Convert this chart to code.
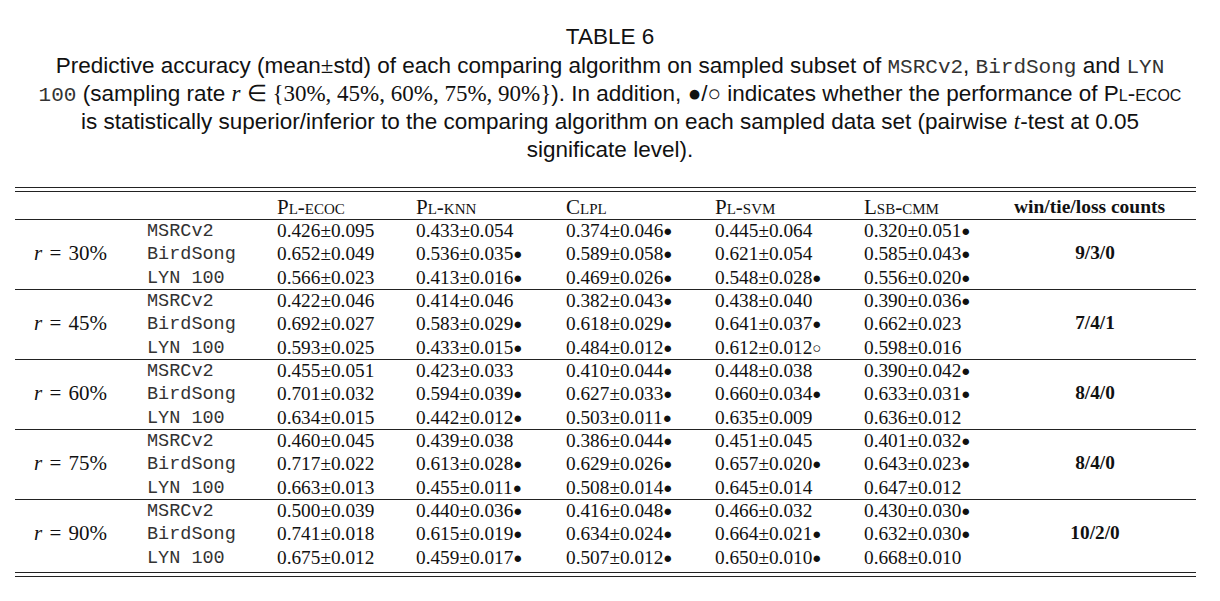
<!DOCTYPE html>
<html><head><meta charset="utf-8">
<script src="https://cdn.jsdelivr.net/npm/chart.js@4/dist/chart.umd.min.js"></script>
<style>
body{margin:0;width:1220px;height:601px;background:#fff;position:relative;overflow:hidden;font-family:"Liberation Sans",Arial,sans-serif;color:#111}
.cap{position:absolute;left:0;width:1220px;text-align:center;font-size:22.5px;line-height:28px;white-space:nowrap}
.tt{font-family:"Liberation Mono",monospace;font-size:21px;color:#333}
.m{font-family:"Liberation Serif",serif;font-style:italic;font-size:23px}
.mr{font-family:"Liberation Serif",serif;font-size:23px}
.sc{font-variant:small-caps}
.rule{position:absolute;left:15px;width:1181px;height:0;border-top:1px solid #222}
.c{position:absolute;font-family:"Liberation Serif",serif;font-size:19.3px;white-space:nowrap;line-height:20px}
.h{font-size:21px}
.ds{font-family:"Liberation Mono",monospace;font-size:18.5px;color:#333}
.b{font-size:15px;vertical-align:1px}
</style></head><body>
<div class="cap" style="top:23px">TABLE 6</div>
<div class="cap" style="top:52px">Predictive accuracy (mean<span class="mr">±</span>std) of each comparing algorithm on sampled subset of <span class="tt">MSRCv2</span>, <span class="tt">BirdSong</span> and <span class="tt">LYN</span></div>
<div class="cap" style="top:80px"><span class="tt">100</span> (sampling rate <span class="m">r</span> <span class="mr">∈ {30%, 45%, 60%, 75%, 90%}</span>). In addition, ●/○ indicates whether the performance of <span class="sc">Pl-ecoc</span></div>
<div class="cap" style="top:108px">is statistically superior/inferior to the comparing algorithm on each sampled data set (pairwise <span class="m">t</span>-test at 0.05</div>
<div class="cap" style="top:136px">significate level).</div>
<div id="tbl"></div>
<script>
const algorithms = ['Pl-ecoc', 'Pl-knn', 'Clpl', 'Pl-svm', 'Lsb-cmm'];
const rates = ['30%', '45%', '60%', '75%', '90%'];
const datasets = ['MSRCv2', 'BirdSong', 'LYN 100'];
const counts = ['9/3/0', '7/4/1', '8/4/0', '8/4/0', '10/2/0'];
// each row: [mean, std, mark] per algorithm; mark: 1 = ●, -1 = ○, 0 = none
const r30 = [
  [[0.426,0.095,0],[0.433,0.054,0],[0.374,0.046,1],[0.445,0.064,0],[0.320,0.051,1]],
  [[0.652,0.049,0],[0.536,0.035,1],[0.589,0.058,1],[0.621,0.054,0],[0.585,0.043,1]],
  [[0.566,0.023,0],[0.413,0.016,1],[0.469,0.026,1],[0.548,0.028,1],[0.556,0.020,1]]];
const r45 = [
  [[0.422,0.046,0],[0.414,0.046,0],[0.382,0.043,1],[0.438,0.040,0],[0.390,0.036,1]],
  [[0.692,0.027,0],[0.583,0.029,1],[0.618,0.029,1],[0.641,0.037,1],[0.662,0.023,0]],
  [[0.593,0.025,0],[0.433,0.015,1],[0.484,0.012,1],[0.612,0.012,-1],[0.598,0.016,0]]];
const r60 = [
  [[0.455,0.051,0],[0.423,0.033,0],[0.410,0.044,1],[0.448,0.038,0],[0.390,0.042,1]],
  [[0.701,0.032,0],[0.594,0.039,1],[0.627,0.033,1],[0.660,0.034,1],[0.633,0.031,1]],
  [[0.634,0.015,0],[0.442,0.012,1],[0.503,0.011,1],[0.635,0.009,0],[0.636,0.012,0]]];
const r75 = [
  [[0.460,0.045,0],[0.439,0.038,0],[0.386,0.044,1],[0.451,0.045,0],[0.401,0.032,1]],
  [[0.717,0.022,0],[0.613,0.028,1],[0.629,0.026,1],[0.657,0.020,1],[0.643,0.023,1]],
  [[0.663,0.013,0],[0.455,0.011,1],[0.508,0.014,1],[0.645,0.014,0],[0.647,0.012,0]]];
const r90 = [
  [[0.500,0.039,0],[0.440,0.036,1],[0.416,0.048,1],[0.466,0.032,0],[0.430,0.030,1]],
  [[0.741,0.018,0],[0.615,0.019,1],[0.634,0.024,1],[0.664,0.021,1],[0.632,0.030,1]],
  [[0.675,0.012,0],[0.459,0.017,1],[0.507,0.012,1],[0.650,0.010,1],[0.668,0.010,0]]];
const groups = [r30, r45, r60, r75, r90];

const colX = [277, 416, 566, 715, 864];
const tbl = document.getElementById('tbl');
const add = (html, style, cls) => {
  let d = document.createElement('div');
  d.className = cls || 'c';
  d.style.cssText = style;
  d.innerHTML = html;
  tbl.appendChild(d);
};
add('', 'top:187px', 'rule'); add('', 'top:191px', 'rule');
algorithms.forEach((a, i) => add('<span class="sc">' + a + '</span>', `left:${colX[i]}px;top:197px`, 'c h'));
add('<b>win/tie/loss counts</b>', 'left:1014px;top:197px;font-size:19.5px', 'c');
add('', 'top:219px', 'rule');
const fmt = v => v.toFixed(3);
groups.forEach((g, gi) => {
  const top = 220 + gi * 70;
  if (gi > 0) add('', `top:${top - 1}px`, 'rule');
  add(`<i>r</i> = ${rates[gi]}`, `left:34px;top:${top + 23}px;font-size:21px;word-spacing:2px`);
  add('<b>' + counts[gi] + '</b>', `left:1095px;transform:translateX(-50%);top:${top + 23}px`);
  g.forEach((row, ri) => {
    const y = top + 1 + ri * 23.3;
    add(datasets[ri], `left:147px;top:${y + 1}px`, 'c ds');
    row.forEach((cell, ci) => {
      const mk = cell[2] === 1 ? '<span class="b">●</span>' : cell[2] === -1 ? '<span class="b">○</span>' : '';
      add(fmt(cell[0]) + '±' + fmt(cell[1]) + mk, `left:${colX[ci]}px;top:${y}px`);
    });
  });
});
add('', 'top:572px', 'rule'); add('', 'top:576px', 'rule');
</script>
</body></html>
